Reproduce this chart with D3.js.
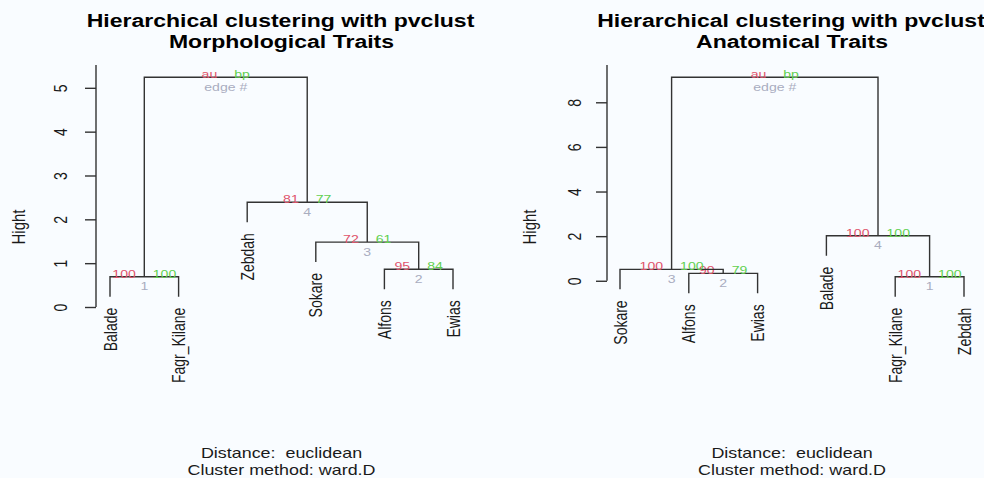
<!DOCTYPE html>
<html>
<head>
<meta charset="utf-8">
<script src="https://cdn.jsdelivr.net/npm/d3@7"></script>
<style>
  body { margin: 0; background: #f9fcff; }
  text { font-family: "Liberation Sans", Arial, sans-serif; white-space: pre; }
</style>
</head>
<body>
<svg id="chart" width="984" height="478"></svg>
<script>
// R-style merge matrices: negative = leaf (1-based), positive = earlier merge
const morphLeaves = ['Balade', 'Fagr_Kilane', 'Zebdah', 'Sokare', 'Alfons', 'Ewias'];
const morphMerge = [[-1, -2], [-5, -6], [-4, 2], [-3, 3], [1, 4]];
const morphHeight = [0.69, 0.86, 1.48, 2.39, 5.24];
const morphAu = [100, 95, 72, 81];
const morphBp = [100, 84, 61, 77];
const morphTicks = [0, 1, 2, 3, 4, 5];

const anatLeaves = ['Sokare', 'Alfons', 'Ewias', 'Balade', 'Fagr_Kilane', 'Zebdah'];
const anatMerge = [[-5, -6], [-2, -3], [-1, 2], [-4, 1], [3, 4]];
const anatHeight = [0.18, 0.33, 0.51, 2.02, 9.12];
const anatAu = [100, 90, 100, 100];
const anatBp = [100, 79, 100, 100];
const anatTicks = [0, 2, 4, 6, 8];

const mainTitle = 'Hierarchical clustering with pvclust';
const subTitles = ['Morphological Traits', 'Anatomical Traits'];
const distText = 'Distance:  euclidean';
const methodText = 'Cluster method: ward.D';
const yLabel = 'Hight';

const AU_COL = '#df536b', BP_COL = '#61d04f', EDGE_COL = '#a9adbf';
const LINE_COL = '#333';
const SX = 1.28; // the picture is stretched horizontally

const svg = d3.select('#chart');
svg.append('rect').attr('width', 984).attr('height', 478).attr('fill', '#f9fcff');

const panels = [
  { sub: subTitles[0], leaves: morphLeaves, merge: morphMerge, height: morphHeight,
    au: morphAu, bp: morphBp, ticks: morphTicks, axisX: 96, leafRange: [110, 453], tickOff: 36 },
  { sub: subTitles[1], leaves: anatLeaves, merge: anatMerge, height: anatHeight,
    au: anatAu, bp: anatBp, ticks: anatTicks, axisX: 607, leafRange: [620, 964], tickOff: 33 }
];

const hText = (g, x, y, str, size, opts = {}) => {
  return g.append('text')
    .attr('transform', `translate(${x},${y}) scale(${SX},1)`)
    .attr('text-anchor', opts.anchor || 'middle')
    .attr('font-size', size)
    .attr('font-weight', opts.bold ? 'bold' : null)
    .attr('fill', opts.fill || '#111')
    .text(str);
};

const drawPanel = (p) => {
  const g = svg.append('g');
  const x = d3.scalePoint().domain(p.leaves).range(p.leafRange);
  const maxH = d3.max(p.height), minH = d3.min(p.height);
  const hang = 0.1 * (maxH - minH);

  // lowest leaf end sits at the bottom, root bar at the top
  const leafEnds = p.merge.flatMap((m, i) => m.filter((c) => c < 0).map(() => p.height[i] - hang));
  const y = d3.scaleLinear().domain([d3.min(leafEnds), maxH]).range([296.7, 77.3]);

  const right = p.leafRange[1] + (p.leafRange[0] - p.axisX);
  const cx = (p.axisX + right) / 2;

  // titles
  hText(g, cx - 1, 27, mainTitle, 18, { bold: true, fill: '#000' });
  hText(g, cx, 47.5, p.sub, 18, { bold: true, fill: '#000' });
  hText(g, cx, 457.5, distText, 14, { fill: '#1a1a1a' });
  hText(g, cx, 475, methodText, 14, { fill: '#1a1a1a' });

  // y axis
  const axis = g.append('g')
    .attr('transform', `translate(${p.axisX},0)`)
    .call(d3.axisLeft(y).tickValues(p.ticks).tickSize(11).tickFormat(d3.format('d')));
  axis.select('.domain').remove();
  axis.selectAll('line').attr('stroke', LINE_COL).attr('stroke-width', 1.4);
  axis.selectAll('text')
    .attr('x', null).attr('dy', null)
    .attr('transform', `translate(${-p.tickOff},0) scale(${SX},1) rotate(-90)`)
    .attr('text-anchor', 'middle')
    .attr('dominant-baseline', 'central')
    .attr('font-size', 14)
    .attr('font-family', '"Liberation Sans", Arial, sans-serif')
    .attr('fill', '#1a1a1a');
  g.append('line')
    .attr('x1', p.axisX).attr('x2', p.axisX)
    .attr('y1', y(0)).attr('y2', 65)
    .attr('stroke', LINE_COL).attr('stroke-width', 1.4);

  g.append('text')
    .attr('transform', `translate(${p.axisX - 78},227) scale(${SX},1) rotate(-90)`)
    .attr('text-anchor', 'middle')
    .attr('dominant-baseline', 'central')
    .attr('font-size', 15)
    .attr('fill', '#1a1a1a')
    .text(yLabel);

  // dendrogram
  const nodeX = [];
  p.merge.forEach((m, i) => {
    const py = y(p.height[i]);
    const kids = m.map((c) => {
      if (c < 0) {
        const name = p.leaves[-c - 1];
        return { x: x(name), y: y(p.height[i] - hang), leaf: name };
      }
      return { x: nodeX[c - 1], y: y(p.height[c - 1]) };
    });
    nodeX[i] = (kids[0].x + kids[1].x) / 2;

    g.append('path')
      .attr('d', `M${kids[0].x},${kids[0].y}V${py}H${kids[1].x}V${kids[1].y}`)
      .attr('fill', 'none')
      .attr('stroke', LINE_COL)
      .attr('stroke-width', 1.4);

    kids.filter((k) => k.leaf).forEach((k) => {
      g.append('text')
        .attr('transform', `translate(${k.x},${k.y + 11}) scale(${SX},1) rotate(-90)`)
        .attr('text-anchor', 'end')
        .attr('dominant-baseline', 'central')
        .attr('font-size', 14)
        .attr('fill', '#1a1a1a')
        .text(k.leaf);
    });

    const isRoot = i === p.merge.length - 1;
    const nx = nodeX[i];
    hText(g, nx - 8.5, py + 1, isRoot ? 'au' : p.au[i], 11, { anchor: 'end', fill: AU_COL });
    hText(g, nx + 8.5, py + 1, isRoot ? 'bp' : p.bp[i], 11, { anchor: 'start', fill: BP_COL });
    hText(g, nx, py + 13.5, isRoot ? 'edge #' : i + 1, 11, { fill: EDGE_COL });
  });
};

panels.forEach(drawPanel);
</script>
</body>
</html>
